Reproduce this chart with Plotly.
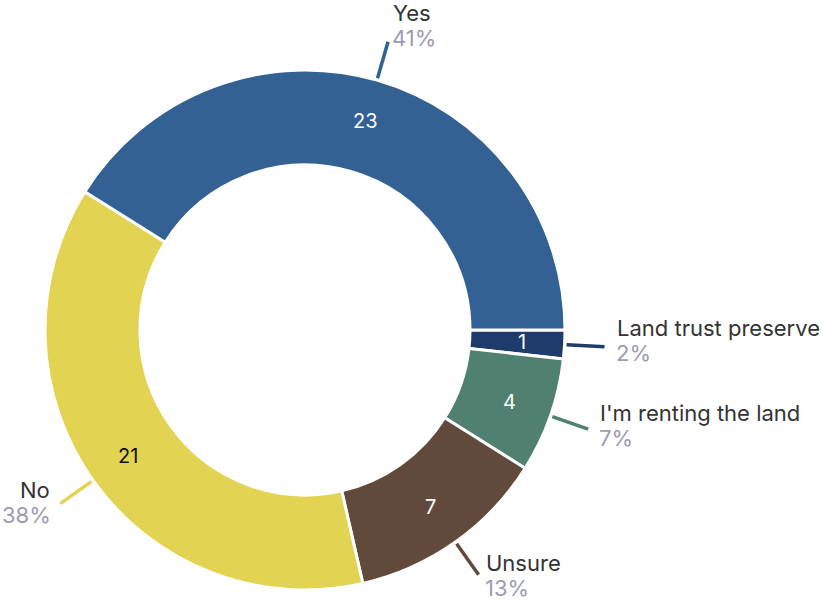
import math
import plotly.graph_objects as go

labels = ["Land trust preserve", "I'm renting the land", "Unsure", "No", "Yes"]
values = [1, 4, 7, 21, 23]
percents = ["2%", "7%", "13%", "38%", "41%"]
colors = ["#1f3b6c", "#4f8070", "#614a3c", "#e2d352", "#336193"]
inner_text_colors = ["#ffffff", "#ffffff", "#ffffff", "#111111", "#ffffff"]

W, H = 823, 600
CX, CY, R, R_IN = 305, 330, 260, 165
FONT = "Inter, Open Sans, sans-serif"

def paper(px, py):
    return px / W, 1 - py / H

fig = go.Figure()
fig.add_trace(go.Pie(
    labels=labels, values=values, sort=False, direction="clockwise", rotation=90,
    hole=R_IN / R, marker=dict(colors=colors, line=dict(color="white", width=3)),
    textinfo="none", hoverinfo="label+value+percent", showlegend=False,
    domain=dict(x=[(CX - R) / W, (CX + R) / W], y=[1 - (CY + R) / H, 1 - (CY - R) / H]),
))

total = sum(values)
cum = 0
annotations = []
shapes = []
for lab, v, pct, col, tcol in zip(labels, values, percents, colors, inner_text_colors):
    mid = (cum + v / 2) / total * 2 * math.pi  # clockwise from east
    cum += v
    c, s = math.cos(mid), math.sin(mid)
    x, y = paper(CX + 217 * c, CY + 217 * s)
    annotations.append(dict(x=x, y=y, xref="paper", yref="paper", text=str(v), showarrow=False,
                            xanchor="center", yanchor="middle",
                            font=dict(family=FONT, size=20, color=tcol)))
    x0, y0 = paper(CX + 262 * c, CY + 262 * s)
    x1, y1 = paper(CX + 300 * c, CY + 300 * s)
    shapes.append(dict(type="line", xref="paper", yref="paper", x0=x0, y0=y0, x1=x1, y1=y1,
                       line=dict(color=col, width=3.5)))
    lx, ly = paper(CX + 310 * c, CY + 310 * s - 7)
    side = "right" if c < 0 else "left"
    annotations.append(dict(x=lx, y=ly, xref="paper", yref="paper", showarrow=False,
                            text=lab, xanchor=side, yanchor="middle", yshift=12.5,
                            font=dict(family=FONT, size=22, color="#333333")))
    annotations.append(dict(x=lx, y=ly, xref="paper", yref="paper", showarrow=False,
                            text=pct, xanchor=side, yanchor="middle", yshift=-12.5,
                            height=22, borderpad=0,
                            font=dict(family=FONT, size=22, color="#9b9bb5")))

fig.update_layout(width=W, height=H, margin=dict(l=0, r=0, t=0, b=0),
                  paper_bgcolor="white", plot_bgcolor="white",
                  annotations=annotations, shapes=shapes)
fig.write_html("out.html", config={"displayModeBar": False},
               post_script="document.body.style.margin='0';")
